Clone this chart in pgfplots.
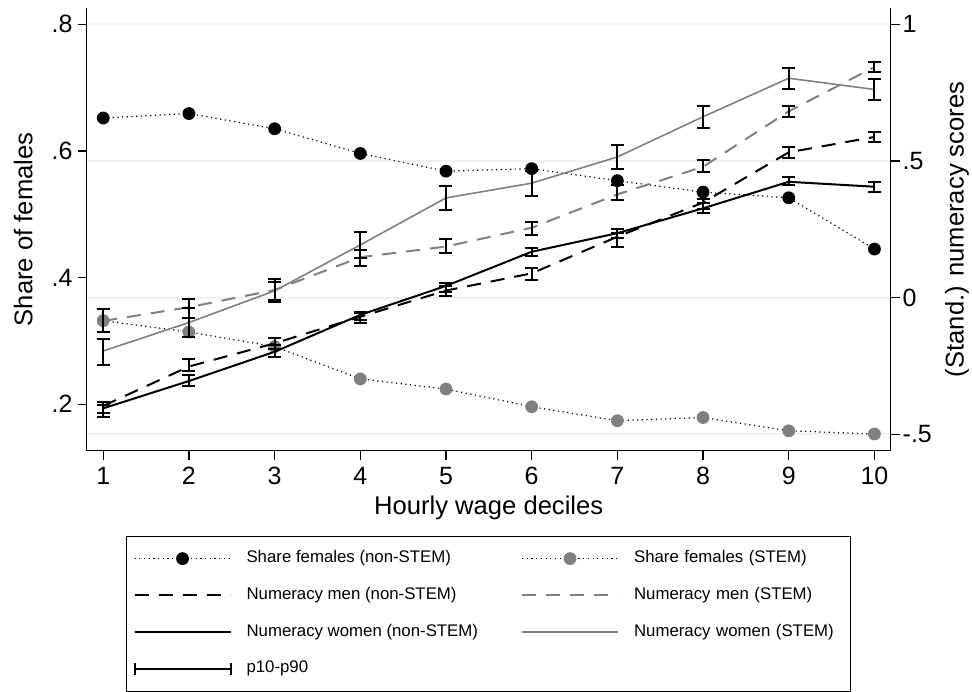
\documentclass[border=0pt]{standalone}
\usepackage{fontspec}
\setmainfont{Liberation Sans}
\usepackage{pgfplots}
\usepackage{pgfplotstable}
\pgfplotsset{compat=1.18}
\definecolor{stgray}{RGB}{128,128,128}
\definecolor{stgrid}{RGB}{234,242,243}

\pgfplotstableread{
x y
1 0.652
2 0.659
3 0.635
4 0.596
5 0.568
6 0.572
7 0.553
8 0.535
9 0.526
10 0.445
}\shareN
\pgfplotstableread{
x y
1 0.332
2 0.314
3 0.291
4 0.240
5 0.224
6 0.196
7 0.174
8 0.179
9 0.158
10 0.153
}\shareS
\pgfplotstableread{
x y lo hi
1 -0.396 -0.421 -0.381
2 -0.252 -0.267 -0.225
3 -0.167 -0.188 -0.149
4 -0.070 -0.092 -0.056
5 0.026 0.006 0.043
6 0.089 0.065 0.110
7 0.223 0.187 0.237
8 0.348 0.323 0.360
9 0.532 0.510 0.550
10 0.588 0.569 0.605
}\menN
\pgfplotstableread{
x y lo hi
1 -0.405 -0.435 -0.393
2 -0.305 -0.323 -0.283
3 -0.198 -0.216 -0.173
4 -0.063 -0.082 -0.051
5 0.043 0.021 0.053
6 0.168 0.153 0.183
7 0.236 0.218 0.250
8 0.327 0.309 0.345
9 0.424 0.412 0.443
10 0.406 0.386 0.422
}\womN
\pgfplotstableread{
x y lo hi
1 -0.085 -0.124 -0.042
2 -0.035 -0.073 -0.006
3 0.028 -0.008 0.068
4 0.148 0.117 0.175
5 0.187 0.162 0.215
6 0.256 0.229 0.278
7 0.378 0.357 0.412
8 0.479 0.459 0.504
9 0.682 0.662 0.701
10 0.844 0.825 0.864
}\menS
\pgfplotstableread{
x y lo hi
1 -0.195 -0.246 -0.151
2 -0.091 -0.145 -0.038
3 0.025 -0.017 0.059
4 0.193 0.146 0.239
5 0.365 0.321 0.409
6 0.419 0.372 0.465
7 0.515 0.470 0.559
8 0.662 0.622 0.703
9 0.803 0.764 0.842
10 0.762 0.723 0.800
}\womS

\begin{document}
\begin{tikzpicture}
\useasboundingbox (0,0) rectangle (486pt,345.5pt);
\pgfplotsset{
  common/.style={
    scale only axis, width=402pt, height=221.35pt,
    at={(43.35pt,120.15pt)}, anchor=south west,
    xmin=0.807, xmax=10.19,
    tick align=outside,
    major tick length=4.4pt,
    axis line style={black, line width=0.6pt},
    every tick/.style={black, line width=0.6pt},
    ticklabel style={font=\fontsize{12.5}{14}\selectfont},
    label style={font=\fontsize{12.8}{15}\selectfont},
  },
  erb/.style={error bars/.cd, y dir=both, y explicit,
    error bar style={black, solid, line width=1pt},
    error mark options={black, solid, line width=1pt, mark size=3.25pt, rotate=90}},
}
% left axis: share of females
\begin{axis}[common,
  axis x line*=bottom, axis y line*=left,
  ymin=0.1266, ymax=0.8257,
  xtick={1,2,3,4,5,6,7,8,9,10},
  xticklabels={1,2,3,4,5,6,7,8,9,10},
  xticklabel style={inner sep=3.6pt},
  ytick={0.2,0.4,0.6,0.8},
  yticklabels={.2,.4,.6,.8},
  yticklabel style={inner sep=2.5pt},
  extra y ticks={0.1525,0.3683,0.5841,0.7999},
  extra y tick labels={},
  extra y tick style={grid=major, major tick length=0pt},
  major grid style={stgrid, line width=1pt},
  xlabel={Hourly wage deciles},
  xlabel style={at={(axis description cs:0.5,-0.143)}, anchor=base},
  ylabel={Share of females},
  ylabel style={at={(axis description cs:-0.0677,0.5)}, anchor=base, rotate=0},
]
\addplot[black, line width=0.6pt, dash pattern=on 0.6pt off 1.75pt,
  mark=*, mark size=2.9pt, mark options={solid, fill=black, draw=black}]
  table[x=x,y=y] {\shareN};
\addplot[black, line width=0.6pt, dash pattern=on 0.6pt off 1.75pt,
  mark=*, mark size=2.9pt, mark options={solid, fill=stgray, draw=stgray}]
  table[x=x,y=y] {\shareS};
\end{axis}
% right axis: numeracy
\begin{axis}[common,
  axis x line=none, axis y line*=right,
  ymin=-0.56, ymax=1.06,
  ytick={-0.5,0,0.5,1},
  yticklabels={-.5,0,.5,1},
  yticklabel style={inner sep=1.4pt},
  ylabel={(Stand.) numeracy scores},
  ylabel style={at={(axis description cs:1.0907,0.5)}, anchor=base, rotate=0},
  legend image code/.code={\draw[mark repeat=2,mark phase=2,#1] plot coordinates {(0pt,0pt) (24pt,0pt) (48pt,0pt)};},
  legend columns=2,
  legend cell align=left,
  legend style={at={(axis description cs:0.4995,-0.192)}, anchor=north,
    draw=black, line width=0.5pt,
    font=\fontsize{8.4}{10}\selectfont,
    inner xsep=3.5pt, inner ysep=7pt, row sep=9.95pt,
    nodes={inner sep=0pt, text height=6.3pt, text depth=2.1pt},
    /tikz/every odd column/.append style={column sep=7.5pt},
    /tikz/every even column/.append style={column sep=21.5pt},
    /tikz/column 4/.append style={nodes={text width=104.5pt, align=left}}},
]
\addlegendimage{black, line width=0.6pt, dash pattern=on 0.6pt off 1.75pt,
  mark=*, mark size=2.9pt, mark options={solid, fill=black, draw=black}}
\addlegendimage{black, line width=0.6pt, dash pattern=on 0.6pt off 1.75pt,
  mark=*, mark size=2.9pt, mark options={solid, fill=stgray, draw=stgray}}
\addplot[black, line width=1pt, dash pattern=on 7pt off 5pt, erb]
  table[x=x,y=y,y error plus expr=\thisrow{hi}-\thisrow{y}, y error minus expr=\thisrow{y}-\thisrow{lo}] {\menN};
\addplot[stgray, line width=1pt, dash pattern=on 7pt off 5pt, erb]
  table[x=x,y=y,y error plus expr=\thisrow{hi}-\thisrow{y}, y error minus expr=\thisrow{y}-\thisrow{lo}] {\menS};
\addplot[black, line width=1pt, erb]
  table[x=x,y=y,y error plus expr=\thisrow{hi}-\thisrow{y}, y error minus expr=\thisrow{y}-\thisrow{lo}] {\womN};
\addplot[stgray, line width=0.8pt, erb]
  table[x=x,y=y,y error plus expr=\thisrow{hi}-\thisrow{y}, y error minus expr=\thisrow{y}-\thisrow{lo}] {\womS};
\addlegendimage{legend image code/.code={%
  \draw[black, line width=1pt] (0pt,0pt) -- (48pt,0pt);
  \draw[black, line width=1pt] (0pt,-3pt) -- (0pt,3pt);
  \draw[black, line width=1pt] (48pt,-3pt) -- (48pt,3pt);}}
\legend{Share females (non-STEM), Share females (STEM),
  Numeracy men (non-STEM), Numeracy men (STEM),
  Numeracy women (non-STEM), Numeracy women (STEM), p10-p90}
\end{axis}
\end{tikzpicture}
\end{document}
